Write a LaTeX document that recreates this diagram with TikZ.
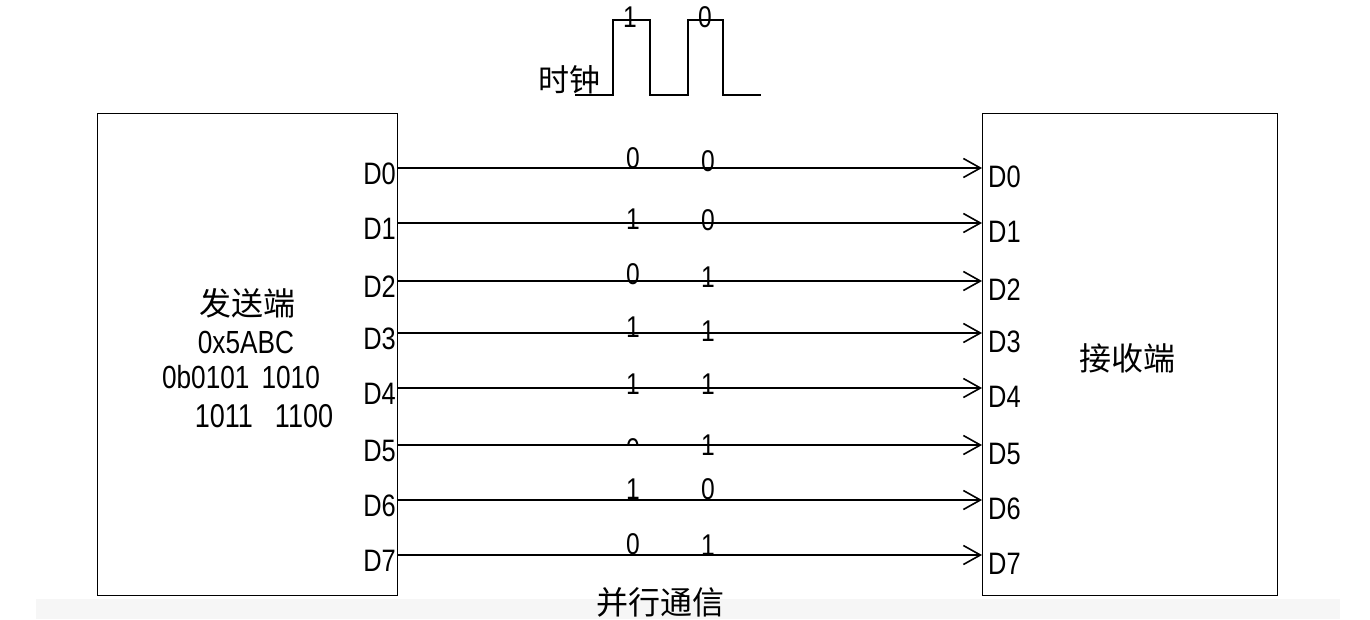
\documentclass[tikz,border=0pt]{standalone}
\usepackage{fontspec}
\setmainfont[FakeStretch=0.82]{Liberation Sans}
\newfontfamily\cjk{Noto Sans CJK SC}
\usetikzlibrary{arrows.meta}
\begin{document}
\begin{tikzpicture}[x=1pt,y=-1pt,
  box/.style={draw, line width=1.4pt, anchor=north west, inner sep=0pt},
  wire/.style={line width=1.8pt, -{Straight Barb[length=17pt,width=19pt,line width=1.6pt]}},
  dlab/.style={font=\fontsize{31}{34}\selectfont, inner sep=0pt},
  bit/.style={font=\fontsize{30}{34}\selectfont, inner sep=0pt},
  cjklab/.style={font=\cjk\fontsize{32}{36}\selectfont, inner sep=0pt},
  txt/.style={font=\fontsize{32}{36}\selectfont, inner sep=0pt}]
\useasboundingbox (0,0) rectangle (1370,619);
\fill[gray!7] (36,599) rectangle (1340,619);
% boxes
\node[box, minimum width=300pt, minimum height=482pt] (send) at (97,113) {};
\node[box, minimum width=295pt, minimum height=482pt] (recv) at (982,113) {};
% texts in boxes
\node[cjklab] (sname) at (247,303) {发送端};
\node[txt] (hex) at (246,342) {0x5ABC};
\node[txt] (bin1) at (241,377) {0b0101\hspace{12pt}1010};
\node[txt, font=\fontsize{33}{36}\selectfont] (bin2) at (264,416) {1011\hspace{22pt}1100};
\node[cjklab] (rname) at (1127,358) {接收端};
\node[cjklab] (title) at (660,602) {并行通信};
% clock
\node[cjklab, font=\cjk\fontsize{31}{34}\selectfont, anchor=east] (clk) at (601,80) {时钟};
\draw[line width=1.6pt] (575,95) -- (613,95) -- (613,20) -- (650,20) -- (650,95) -- (688,95) -- (688,20) -- (723,20) -- (723,95) -- (761,95);
\node[bit] (c1) at (630,17) {1};
\node[bit] (c2) at (705,17) {0};
% wires
\foreach \i/\y/\ya/\yb/\ba/\bb in {0/168/158/161/0/0, 1/223/219/220/1/0, 2/281/274/277/0/1, 3/333/327/331/1/1, 4/388/384/384/1/1, 6/500/489/489/1/0, 7/555/544/545/0/1}{
  \coordinate (s\i) at (397,\y);
  \coordinate (r\i) at (982,\y);
  \draw[wire] (s\i) -- (r\i);
  \node[dlab, anchor=east] (ls\i) at (396,\y+6) {D\i};
  \node[dlab, anchor=west] (lr\i) at (988,\y+9) {D\i};
  \node[bit] (ba\i) at (633,\ya) {\ba};
  \node[bit] (bb\i) at (708,\yb) {\bb};
}
\coordinate (s5) at (397,445);
\coordinate (r5) at (982,445);
\draw[wire] (s5) -- (r5);
\node[dlab, anchor=east] (ls5) at (396,451) {D5};
\node[dlab, anchor=west] (lr5) at (988,454) {D5};
\begin{scope}
\clip (610,420) rectangle (660,445);
\node[bit] (ba5) at (633,449) {0};
\end{scope}
\node[bit] (bb5) at (708,445) {1};
\end{tikzpicture}
\end{document}
